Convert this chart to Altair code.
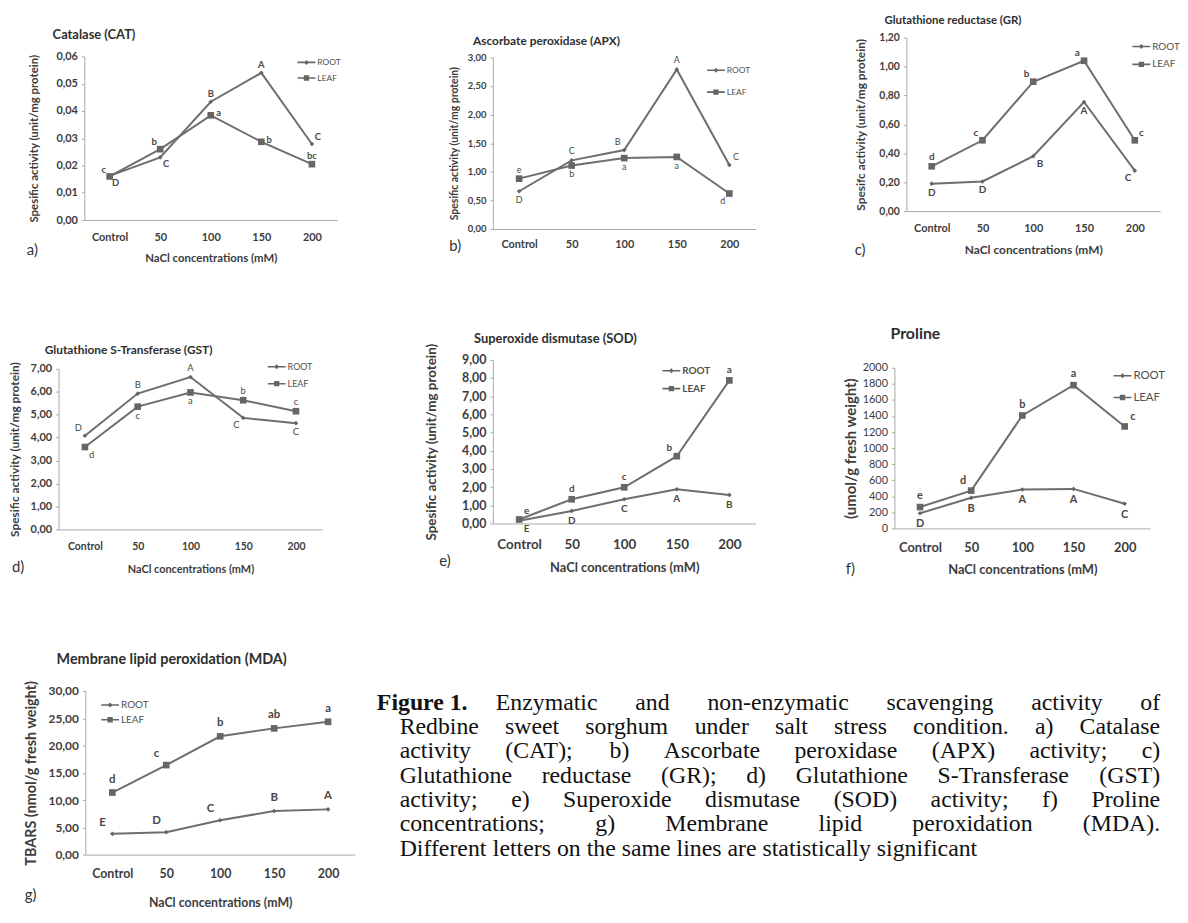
import altair as alt
import pandas as pd

CATS = ["Control", "50", "100", "150", "200"]
SERIES = ["ROOT", "LEAF"]

# ---- data ----
CAT_ROOT = [0.0162, 0.0230, 0.0434, 0.0540, 0.0279]
CAT_LEAF = [0.0160, 0.0260, 0.0384, 0.0287, 0.0205]
CAT_ROOT_LET = ["D", "C", "B", "A", "C"]
CAT_LEAF_LET = ["c", "b", "a", "b", "bc"]

APX_ROOT = [0.66, 1.20, 1.38, 2.79, 1.12]
APX_LEAF = [0.88, 1.11, 1.24, 1.26, 0.62]
APX_ROOT_LET = ["D", "C", "B", "A", "C"]
APX_LEAF_LET = ["e", "b", "a", "a", "d"]

GR_ROOT = [0.19, 0.205, 0.38, 0.755, 0.28]
GR_LEAF = [0.31, 0.49, 0.895, 1.04, 0.49]
GR_ROOT_LET = ["D", "D", "B", "A", "C"]
GR_LEAF_LET = ["d", "c", "b", "a", "c"]

GST_ROOT = [4.08, 5.92, 6.64, 4.86, 4.63]
GST_LEAF = [3.59, 5.35, 5.97, 5.63, 5.15]
GST_ROOT_LET = ["D", "B", "A", "C", "C"]
GST_LEAF_LET = ["d", "c", "a", "b", "c"]

SOD_ROOT = [0.15, 0.69, 1.33, 1.88, 1.57]
SOD_LEAF = [0.22, 1.33, 1.99, 3.70, 7.87]
SOD_ROOT_LET = ["E", "D", "C", "A", "B"]
SOD_LEAF_LET = ["e", "d", "c", "b", "a"]

PRO_ROOT = [189, 381, 484, 492, 307]
PRO_LEAF = [266, 471, 1406, 1783, 1270]
PRO_ROOT_LET = ["D", "B", "A", "A", "C"]
PRO_LEAF_LET = ["e", "d", "b", "a", "c"]

MDA_ROOT = [3.82, 4.12, 6.30, 8.00, 8.30]
MDA_LEAF = [11.39, 16.42, 21.70, 23.15, 24.36]
MDA_ROOT_LET = ["E", "D", "C", "B", "A"]
MDA_LEAF_LET = ["d", "c", "b", "ab", "a"]

# letter placement relative to its point (style)
CAT_ROOT_POS = ["br", "br", "t", "t", "tr"]
CAT_LEAF_POS = ["tl", "tl", "r", "r", "t"]
APX_ROOT_POS = ["b", "t", "tl", "t", "tr"]
APX_LEAF_POS = ["t", "b", "b", "b", "bl"]
GR_ROOT_POS = ["b", "b", "br", "b", "bl"]
GR_LEAF_POS = ["t", "tl", "tl", "tl", "tr"]
GST_ROOT_POS = ["tl", "t", "t", "bl", "b"]
GST_LEAF_POS = ["br", "b", "b", "t", "t"]
SOD_ROOT_POS = ["br", "b", "b", "b", "b"]
SOD_LEAF_POS = ["tr", "t", "t", "tl", "t"]
PRO_ROOT_POS = ["b", "b", "b", "b", "b"]
PRO_LEAF_POS = ["t", "tl", "t", "t", "tr"]
MDA_ROOT_POS = ["tl", "tl", "tl", "t", "t"]
MDA_LEAF_POS = ["t", "tl", "t", "t", "t"]

CAPTION_HEAD = "Figure 1."
CAPTION_LINES = [
    "Enzymatic and non-enzymatic scavenging activity of",
    "Redbine sweet sorghum under salt stress condition. a) Catalase",
    "activity (CAT); b) Ascorbate peroxidase (APX) activity; c)",
    "Glutathione reductase (GR); d) Glutathione S-Transferase (GST)",
    "activity; e) Superoxide dismutase (SOD) activity; f) Proline",
    "concentrations; g) Membrane lipid peroxidation (MDA).",
    "Different letters on the same lines are statistically significant",
]
CAPTION_JUSTIFY = [True, True, True, True, True, True, False]

FONT = "Lato"
SERIF = "Liberation Serif"
LINE = "#6e6e6e"
MARK = "#666666"
TXT = "#3d3d3d"
AXC = "#a8a8a8"

ROOT_PATH = "M-1.5,-0.13H1.5V0.13H-1.5Z M0,-0.42L0.42,0L0,0.42L-0.42,0Z"
LEAF_PATH = "M-1.5,-0.13H1.5V0.13H-1.5Z M-0.45,-0.45H0.45V0.45H-0.45Z"

OFFS = {"t": (0, -1), "b": (0, 1), "r": (1, -0.25), "l": (-1, 0),
        "tl": (-0.75, -0.85), "tr": (0.75, -0.85), "br": (0.75, 0.85), "bl": (-0.75, 0.85)}

# Times / Liberation Serif advance widths (per 1000 em) for justification
TW = {" ": 250, "(": 333, ")": 333, ",": 250, "-": 333, ".": 250, ";": 278, ":": 278,
      "0": 500, "1": 500, "2": 500, "3": 500, "4": 500, "5": 500, "6": 500, "7": 500, "8": 500, "9": 500,
      "A": 722, "B": 667, "C": 667, "D": 722, "E": 611, "F": 556, "G": 722, "H": 722, "I": 333,
      "J": 389, "K": 722, "L": 611, "M": 889, "N": 722, "O": 722, "P": 556, "Q": 722, "R": 667,
      "S": 556, "T": 611, "U": 722, "V": 722, "W": 944, "X": 722, "Y": 722, "Z": 611,
      "a": 444, "b": 500, "c": 444, "d": 500, "e": 444, "f": 333, "g": 500, "h": 500, "i": 278,
      "j": 278, "k": 500, "l": 278, "m": 778, "n": 500, "o": 500, "p": 500, "q": 500, "r": 333,
      "s": 389, "t": 278, "u": 500, "v": 500, "w": 722, "x": 500, "y": 500, "z": 444}


def tw(s, fs):
    return sum(TW.get(ch, 500) for ch in s) * fs / 1000.0


def ticks(ymax, step):
    n = int(round(ymax / step))
    return [round(i * step, 6) for i in range(n + 1)]


def make_panel(root, leaf, rlet, llet, rpos, lpos, c):
    rows = []
    for s, vals, lets, poss in (("ROOT", root, rlet, rpos), ("LEAF", leaf, llet, lpos)):
        for k, v, l, p in zip(CATS, vals, lets, poss):
            rows.append({"conc": k, "series": s, "value": v, "letter": l, "pos": p})
    df = pd.DataFrame(rows)
    W, H = c["W"], c["H"]
    if c["dec"] == 0:
        lexpr = "format(datum.value, 'd')"
    else:
        lexpr = "replace(format(datum.value, '.%df'), '.', ',')" % c["dec"]
    xaxis = dict(
        labelAngle=0, labelFont=FONT, labelFontSize=c["xlfs"], labelFontWeight="bold",
        labelColor=TXT, labelPadding=c["xlp"], ticks=False, tickSize=0,
        domainColor=AXC, domainWidth=1, offset=-(H - c["y1"]), grid=False,
    )
    if c.get("xtitle"):
        xaxis.update(title=c["xtitle"], titleFont=FONT, titleFontSize=c["xtfs"],
                     titleFontWeight="bold", titleColor=TXT,
                     titleX=(c["x0"] + c["x1"]) / 2, titleY=c["xtd"],
                     titleBaseline="middle", titleAlign="center")
    else:
        xaxis.update(title=None)
    X = alt.X("conc:N", sort=CATS,
              scale=alt.Scale(type="point", domain=CATS, range=[c["x0"], c["x1"]], padding=0.5),
              axis=alt.Axis(**xaxis))
    Y = alt.Y("value:Q",
              scale=alt.Scale(domain=[0, c["ymax"]], range=[c["y1"], c["y0"]], nice=False, zero=False),
              axis=alt.Axis(values=ticks(c["ymax"], c["step"]), labelExpr=lexpr,
                            labelFont=FONT, labelFontSize=c["ylfs"], labelFontWeight=c.get("ylfw", "bold"),
                            labelColor=TXT, labelPadding=4, tickSize=3, tickColor=AXC,
                            domainColor=AXC, domainWidth=1, grid=False, offset=-c["x0"],
                            title=c["ytitle"], titleFont=FONT, titleFontSize=c["ytfs"],
                            titleFontWeight="bold", titleColor=TXT, titleAngle=270,
                            titleX=-c["ytd"], titleY=(c["y0"] + c["y1"]) / 2,
                            titleBaseline="middle", titleAlign="center"))
    base = alt.Chart(df)
    layers = []
    layers.append(base.mark_line(color=LINE, strokeWidth=2).encode(x=X, y=Y, detail="series:N"))
    layers.append(base.mark_point(filled=True, opacity=1, color=MARK, strokeWidth=0).encode(
        x=X, y=Y,
        shape=alt.Shape("series:N", scale=alt.Scale(domain=SERIES, range=["diamond", "square"]), legend=None),
        size=alt.Size("series:N", scale=alt.Scale(domain=SERIES, range=list(c["mk"])), legend=None),
    ))
    d = c["letd"]
    for code, (fx, fy) in OFFS.items():
        if code not in set(rpos) | set(lpos):
            continue
        layers.append(base.transform_filter(alt.datum.pos == code).mark_text(
            dx=fx * d, dy=fy * d, font=FONT, fontSize=c["letfs"], fontWeight=c.get("letfw", "bold"),
            color="#474747", baseline="middle", align="center",
        ).encode(x=X, y=Y, text="letter:N"))
    # legend (library legend, symbols = line + marker)
    S = c.get("legS", 12)
    layers.append(alt.Chart(pd.DataFrame({"series": SERIES})).transform_filter("false").mark_point(
        filled=True, opacity=1, color=MARK, size=S * S, strokeWidth=0,
    ).encode(shape=alt.Shape("series:N", scale=alt.Scale(domain=SERIES, range=[ROOT_PATH, LEAF_PATH]),
                             legend=alt.Legend(title=None, orient="none", legendX=c["leg"][0], legendY=c["leg"][1],
                                               labelFont=FONT, labelFontSize=c["legfs"], labelColor="#505050",
                                               labelFontWeight=c.get("legfw", "normal"),
                                               rowPadding=c["legrp"], symbolStrokeWidth=0, symbolSize=S * S,
                                               labelOffset=5, padding=0, symbolFillColor=MARK))))
    # panel title
    layers.append(alt.Chart(pd.DataFrame({"t": [c["title"]]})).mark_text(
        align="left", baseline="middle", font=FONT, fontSize=c["tfs"], fontWeight="bold", color="#2e2e2e",
    ).encode(x=alt.value(c["tpos"][0]), y=alt.value(c["tpos"][1]), text="t:N"))
    # panel letter
    layers.append(alt.Chart(pd.DataFrame({"t": [c["lab"]]})).mark_text(
        align="left", baseline="middle", font=FONT, fontSize=15, color="#333333",
    ).encode(x=alt.value(c["lpos"][0]), y=alt.value(c["lpos"][1]), text="t:N"))
    return alt.layer(*layers).resolve_scale(shape="independent").properties(width=W, height=H)


H1, H2, H3 = 290, 305, 302
YT = "Spesific activity  (unit/mg protein)"
XT = "NaCl concentrations (mM)"

cfg_a = dict(W=392, H=H1, x0=77, x1=332, y0=45, y1=210, ymax=0.06, step=0.01, dec=2,
             title="Catalase (CAT)", tpos=(45, 23), tfs=13, ytitle=YT, ytfs=11.5, ytd=50,
             xtitle=XT, xtfs=11.5, xtd=39, lab="a)", lpos=(19, 240), ylfs=11, xlfs=11, xlp=12,
             leg=(295, 45), legfs=8.5, legrp=4.7, letfs=9.5, letd=8, mk=(22, 45))
cfg_b = dict(W=390, H=H1, x0=97, x1=362, y0=46, y1=219, ymax=3.0, step=0.5, dec=2,
             title="Ascorbate peroxidase (APX)", tpos=(77, 29), tfs=12, ytitle=YT, ytfs=10.5, ytd=39,
             xtitle=None, lab="b)", lpos=(53, 236), ylfs=9.5, xlfs=11, xlp=10,
             leg=(316, 53), legfs=8.5, legrp=11, letfs=9, letd=9, mk=(20, 45), letfw="normal")
cfg_c = dict(W=390, H=H1, x0=124, x1=380, y0=26, y1=201, ymax=1.2, step=0.2, dec=2,
             title="Glutathione  reductase  (GR)", tpos=(102, 9), tfs=11.5,
             ytitle="Spesifc activity (unit/mg protein)", ytfs=12, ytd=46,
             xtitle=XT, xtfs=12, xtd=39, lab="c)", lpos=(72, 240), ylfs=10.5, xlfs=11, xlp=12,
             leg=(355, 29), legfs=10, legrp=7, letfs=10, letd=9, mk=(20, 50))
cfg_d = dict(W=392, H=H2, x0=51, x1=317, y0=70, y1=232, ymax=7.0, step=1.0, dec=2,
             title="Glutathione  S-Transferase  (GST)", tpos=(37, 51), tfs=12,
             ytitle="Spesific activity (unit/mg protein)", ytfs=12, ytd=44,
             xtitle=XT, xtfs=11, xtd=40, lab="d)", lpos=(4, 270), ylfs=11, xlfs=10.5, xlp=12,
             leg=(265, 62), legfs=9, legrp=6, letfs=9.5, letd=9, mk=(20, 50), letfw="normal")
cfg_e = dict(W=390, H=H2, x0=97, x1=362, y0=61, y1=226, ymax=9.0, step=1.0, dec=2,
             title="Superoxide dismutase  (SOD)", tpos=(78, 40), tfs=13,
             ytitle="Spesific activity (unit/mg protein)", ytfs=13.5, ytd=62,
             xtitle="NaCl concentrations  (mM)", xtfs=13, xtd=44, lab="e)", lpos=(43, 264),
             ylfs=12.5, xlfs=13.5, xlp=14,
             leg=(271, 66), legfs=10, legrp=7, letfs=10, letd=10, mk=(22, 55), legfw="bold")
cfg_f = dict(W=390, H=H2, x0=112, x1=370, y0=69, y1=231, ymax=2000, step=200, dec=0,
             title="Proline", tpos=(108, 35), tfs=16,
             ytitle="(umol/g fresh weight)", ytfs=15, ytd=44,
             xtitle=XT, xtfs=13, xtd=41, lab="f)", lpos=(63, 272), ylfs=11, ylfw="normal",
             xlfs=13, xlp=13,
             leg=(336, 71), legfs=11.5, legrp=10, letfs=11, letd=11, mk=(25, 60))
cfg_g = dict(W=392, H=H3, x0=78, x1=350, y0=90, y1=255, ymax=30, step=5, dec=2,
             title="Membrane lipid peroxidation (MDA)", tpos=(49, 59), tfs=14.5,
             ytitle="TBARS (nmol/g fresh weight)", ytfs=14.5, ytd=54,
             xtitle=XT, xtfs=12.5, xtd=48, lab="g)", lpos=(17, 296), ylfs=12, xlfs=12.5, xlp=13,
             leg=(97, 98), legfs=10, legrp=4, letfs=11.5, letd=13, mk=(28, 70))

pa = make_panel(CAT_ROOT, CAT_LEAF, CAT_ROOT_LET, CAT_LEAF_LET, CAT_ROOT_POS, CAT_LEAF_POS, cfg_a)
pb = make_panel(APX_ROOT, APX_LEAF, APX_ROOT_LET, APX_LEAF_LET, APX_ROOT_POS, APX_LEAF_POS, cfg_b)
pc = make_panel(GR_ROOT, GR_LEAF, GR_ROOT_LET, GR_LEAF_LET, GR_ROOT_POS, GR_LEAF_POS, cfg_c)
pd_ = make_panel(GST_ROOT, GST_LEAF, GST_ROOT_LET, GST_LEAF_LET, GST_ROOT_POS, GST_LEAF_POS, cfg_d)
pe = make_panel(SOD_ROOT, SOD_LEAF, SOD_ROOT_LET, SOD_LEAF_LET, SOD_ROOT_POS, SOD_LEAF_POS, cfg_e)
pf = make_panel(PRO_ROOT, PRO_LEAF, PRO_ROOT_LET, PRO_LEAF_LET, PRO_ROOT_POS, PRO_LEAF_POS, cfg_f)
pg = make_panel(MDA_ROOT, MDA_LEAF, MDA_ROOT_LET, MDA_LEAF_LET, MDA_ROOT_POS, MDA_LEAF_POS, cfg_g)

# ---- caption (justified like the printed figure) ----
CAP_FS = 24
CAP_LH = 24.5
CAP_BASE = 109      # baseline of first line, in the caption cell
CAP_RIGHT = 770     # right margin of justified lines, in the caption cell
head_x = -20
first_x = 100
rest_x = 3
words = []
for i, (line, just) in enumerate(zip(CAPTION_LINES, CAPTION_JUSTIFY)):
    left = first_x if i == 0 else rest_x
    ws = line.split(" ")
    widths = [tw(w, CAP_FS) for w in ws]
    if just and len(ws) > 1:
        gap = (CAP_RIGHT - left - sum(widths)) / (len(ws) - 1)
    else:
        gap = tw(" ", CAP_FS)
    x = left
    for w, wd in zip(ws, widths):
        words.append({"w": w, "x": x, "y": CAP_BASE + i * CAP_LH})
        x += wd + gap
cap_words = alt.Chart(pd.DataFrame(words)).mark_text(
    align="left", baseline="alphabetic", font=SERIF, fontSize=CAP_FS, color="#111111"
).encode(x=alt.X("x:Q", scale=None, axis=None), y=alt.Y("y:Q", scale=None, axis=None), text="w:N")
cap_head = alt.Chart(pd.DataFrame({"t": [CAPTION_HEAD]})).mark_text(
    align="left", baseline="alphabetic", font=SERIF, fontSize=CAP_FS, fontWeight="bold", color="#111111"
).encode(x=alt.value(head_x), y=alt.value(CAP_BASE), text="t:N")
caption = alt.layer(cap_head, cap_words).properties(width=390, height=H3)

chart = alt.concat(
    pa, pb, pc, pd_, pe, pf, pg, caption,
    columns=3, spacing=0, bounds="flush",
).properties(padding=0, background="white").configure_view(stroke=None)

chart.save("out.html", embed_options={"renderer": "svg", "actions": False})
